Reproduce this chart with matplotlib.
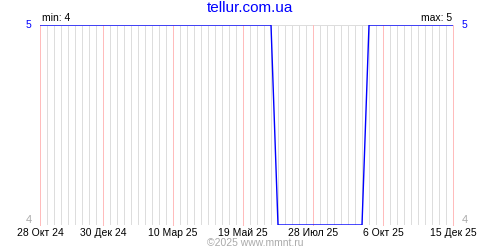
import numpy as np
import pandas as pd
import matplotlib
matplotlib.use("Agg")
import matplotlib.pyplot as plt
import matplotlib.dates as mdates

plt.rcParams["font.family"] = ["Liberation Sans", "DejaVu Sans"]

# weekly readings, 28 Oct 2024 .. 15 Dec 2025
start_date = "2024-10-28"
end_date = "2025-12-15"
values = [5, 5, 5, 5, 5, 5, 5, 5, 5, 5,
          5, 5, 5, 5, 5, 5, 5, 5, 5, 5,
          5, 5, 5, 5, 5, 5, 5, 5, 5, 5,
          5, 5, 5, 5, 4, 4, 4, 4, 4, 4,
          4, 4, 4, 4, 4, 4, 4, 5, 5, 5,
          5, 5, 5, 5, 5, 5, 5, 5, 5, 5]
tick_dates = ["2024-10-28", "2024-12-30", "2025-03-10", "2025-05-19",
              "2025-07-28", "2025-10-06", "2025-12-15"]
tick_labels = ["28 Окт 24", "30 Дек 24", "10 Мар 25", "19 Май 25",
               "28 Июл 25", "6 Окт 25", "15 Дек 25"]

dates = pd.date_range(start_date, end_date, freq="7D")
x = mdates.date2num(dates)

fig = plt.figure(figsize=(5, 2.5), dpi=100)
ax = fig.add_axes([0.08, 0.1, 0.826, 0.8])

px = 72 / 100  # one pixel in points

# weekly grid + red marks at label positions
tick_x = mdates.date2num(pd.to_datetime(tick_dates))
for xv in x:
    ax.axvline(xv, color="#dddddd", lw=px, antialiased=False, zorder=1)
for xv in tick_x:
    ax.axvline(xv, color="#ffbcbc", lw=px, antialiased=False, zorder=1.5,
               clip_on=False)
ax.axhline(5, color="#dddddd", lw=px, antialiased=False, zorder=1)
ax.axhline(4, color="#dddddd", lw=px, antialiased=False, zorder=1)

ax.plot(x, values, color="#0000ff", lw=1.0, zorder=3)

ax.set_xlim(x[0], x[-1])
ax.set_ylim(4, 5)
for s in ax.spines.values():
    s.set_visible(False)
ax.set_xticks(tick_x)
ax.set_xticklabels(tick_labels, fontsize=7.5)
ax.set_yticks([])
ax.tick_params(axis="x", length=0, pad=2)

# y labels both sides
ax.text(-0.02, 1.0, "5", transform=ax.transAxes, color="#0000ff",
        fontsize=7.5, ha="right", va="center")
ax.text(1.02, 1.0, "5", transform=ax.transAxes, color="#0000ff",
        fontsize=7.5, ha="left", va="center")
ax.text(-0.02, 0.0, "4", transform=ax.transAxes, color="#aaaaaa",
        fontsize=8, ha="right", va="bottom")
ax.text(1.02, 0.0, "4", transform=ax.transAxes, color="#aaaaaa",
        fontsize=8, ha="left", va="bottom")

ax.text(0.005, 1.01, "min: 4", transform=ax.transAxes, fontsize=7.5,
        ha="left", va="bottom")
ax.text(0.998, 1.01, "max: 5", transform=ax.transAxes, fontsize=7.5,
        ha="right", va="bottom")

fig.text(0.5, 0.966, "tellur.com.ua", color="#0000ff", fontsize=11,
         ha="center", va="center")
fig.text(0.51, 0.028, "©2025 www.mmnt.ru", color="#aaaaaa", fontsize=7.5,
         ha="center", va="center")

fig.savefig("out.png", dpi=100)
